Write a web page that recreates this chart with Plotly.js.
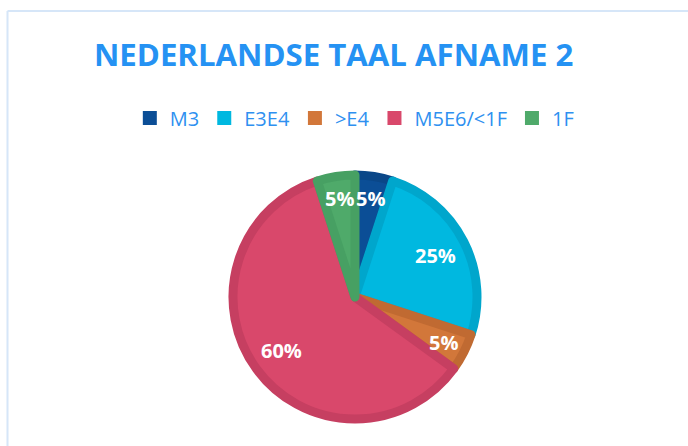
<!DOCTYPE html>
<html>
<head>
<meta charset="utf-8">
<script src="https://cdn.plot.ly/plotly-3.0.1.min.js"></script>
<style>
  html, body { margin: 0; padding: 0; background: #ffffff; }
  #chart { width: 688px; height: 446px; }
</style>
</head>
<body>
<div id="chart"></div>
<script>
const titleText = "NEDERLANDSE TAAL AFNAME 2";
const categories = ["M3", "E3E4", ">E4", "M5E6/<1F", "1F"];
const values = [5, 25, 5, 60, 5];
const fillColors = ["#0B4E96", "#00B8E0", "#D2773A", "#D9486B", "#4FAA6A"];
const edgeColors = ["#0A4788", "#00A6CC", "#C06A32", "#C63F61", "#47A063"];

const W = 688, H = 446;
const cx = 355, cy = 297, r = 122;
const FONT = "Open Sans, sans-serif";

// legend-only pie (tiny, hidden under the main pie) so legend squares are solid
const legendTrace = {
  type: "pie",
  labels: categories,
  values: values,
  sort: false,
  direction: "clockwise",
  textinfo: "none",
  hoverinfo: "skip",
  marker: { colors: fillColors, line: { color: fillColors, width: 2 } },
  domain: { x: [(cx - 1) / W, (cx + 1) / W], y: [(H - cy - 1) / H, (H - cy + 1) / H] },
  showlegend: true
};

const mainTrace = {
  type: "pie",
  labels: categories,
  values: values,
  sort: false,
  direction: "clockwise",
  rotation: 0,
  textinfo: "none",
  marker: { colors: fillColors, line: { color: edgeColors, width: 9 } },
  domain: {
    x: [(cx - r) / W, (cx + r) / W],
    y: [(H - cy - r) / H, (H - cy + r) / H]
  },
  showlegend: false,
  hoverinfo: "label+percent"
};

// percentage labels placed along each slice's bisector
const total = values.reduce((a, b) => a + b, 0);
let cum = 0;
const annotations = values.map((v, i) => {
  const mid = (cum + v / 2) / total * 2 * Math.PI;
  cum += v;
  const frac = v / total >= 0.2 ? 0.72 : 0.79;
  const rr = 126 * frac;
  return {
    xref: "paper", yref: "paper",
    x: (cx + rr * Math.sin(mid)) / W,
    y: (H - cy + rr * Math.cos(mid)) / H,
    text: "<b>" + Math.round(v / total * 100) + "%</b>",
    showarrow: false,
    xanchor: "center", yanchor: "middle",
    font: { family: FONT, size: 20, color: "#ffffff" }
  };
});

const layout = {
  width: W, height: H,
  margin: { l: 0, r: 0, t: 0, b: 0 },
  paper_bgcolor: "#ffffff",
  title: {
    text: "<b>" + titleText + "</b>",
    font: { family: FONT, size: 31.2, color: "#2592F3" },
    x: 0.485, xanchor: "center",
    y: 1 - 55 / H, yanchor: "middle",
    yref: "container", xref: "container"
  },
  showlegend: true,
  legend: {
    orientation: "h",
    x: 0.515, xanchor: "center",
    y: 1 - 118 / H, yanchor: "middle",
    font: { family: FONT, size: 20, color: "#2E90F0" },
    itemwidth: 30,
    traceorder: "normal"
  },
  annotations: annotations,
  shapes: [
    { type: "line", xref: "paper", yref: "paper",
      x0: 7.5 / W, x1: 1.05, y0: 1 - 11 / H, y1: 1 - 11 / H,
      line: { color: "#D6E6F8", width: 2 } },
    { type: "line", xref: "paper", yref: "paper",
      x0: 7.5 / W, x1: 7.5 / W, y0: -0.05, y1: 1 - 11 / H,
      line: { color: "#D6E6F8", width: 2 } }
  ]
};

Plotly.newPlot("chart", [legendTrace, mainTrace], layout, { displayModeBar: false, staticPlot: true });
</script>
</body>
</html>
